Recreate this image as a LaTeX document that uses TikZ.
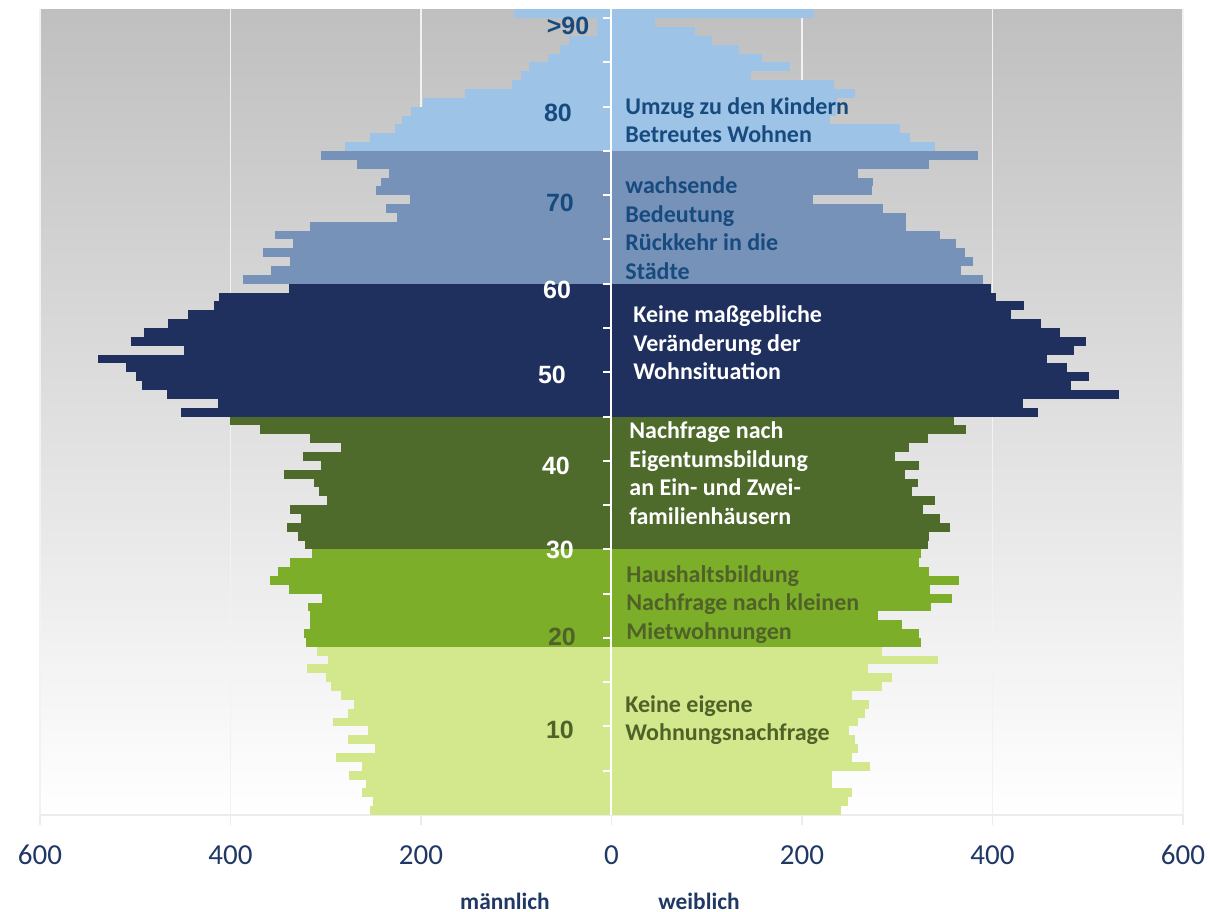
\documentclass[tikz,border=0pt]{standalone}
\usepackage{fontspec}
\setmainfont{Carlito}
\newfontfamily\zahlfont{Liberation Sans}
\definecolor{hellblau}{HTML}{9DC3E6}
\definecolor{stahlblau}{HTML}{7692B8}
\definecolor{marine}{HTML}{1F2F5E}
\definecolor{dunkelgruen}{HTML}{4E6B2C}
\definecolor{gruen}{HTML}{7DAE2A}
\definecolor{hellgruen}{HTML}{D3E78C}
\definecolor{textblau}{HTML}{174A7E}
\definecolor{textgruen}{HTML}{4F6228}
\definecolor{achsblau}{HTML}{203864}
\begin{document}
\begin{tikzpicture}[x=0.47625pt,y=4.427pt,
  altertext/.style={font=\zahlfont\bfseries\fontsize{12.5}{15}\selectfont,inner sep=0pt},
  hinweis/.style={anchor=west,align=left,inner sep=0pt,font=\bfseries\fontsize{12}{14.25}\selectfont},
  achstext/.style={font=\fontsize{14.5}{17}\selectfont,text=achsblau,inner sep=0pt}]
  %Rahmen
  	\fill[white] (-641.99,-10.955) rectangle (628.35,92.05);
  	\useasboundingbox (-641.99,-10.955) rectangle (628.35,92.05);
  %Hintergrund med verlauf
  	\shade[top color=black!25,bottom color=white] (-600,0) rectangle (600,91);
  %Gitterlinien
  	\foreach \g in {-600,-400,-200,200,400,600}
  		\draw[gray!10,line width=0.75pt] (\g,0) -- (\g,91);
  %x-achse
  	\draw[gray!15,line width=0.75pt] (-600,0) -- (600,0);
  	\foreach \g in {-600,-400,...,600}
  		\draw[gray!15,line width=0.75pt] (\g,0) -- (\g,-1.13);

  %Balken 0-18
	\foreach \a/\m/\w in {0/254/241,1/250/248,2/262/253,3/258/232,4/276/232,5/262/271,6/289/253,
		7/248/259,8/277/256,9/256/249,10/292/259,11/277/266,12/270/270,13/284/253,14/295/284,
		15/300/295,16/320/269,17/298/343,18/309/284}
		\fill[hellgruen] (-\m,\a) rectangle (\w,\a+1);
  %Balken 19-29
	\foreach \a/\m/\w in {19/321/325,20/323/323,21/317/305,22/317/280,23/319/335,24/304/357,
		25/339/334,26/358/365,27/350/333,28/337/323,29/314/325}
		\fill[gruen] (-\m,\a) rectangle (\w,\a+1);
  %Balken 30-44
	\foreach \a/\m/\w in {30/322/332,31/329/333,32/341/355,33/326/345,34/338/327,35/299/340,
		36/307/315,37/312/322,38/344/308,39/305/323,40/324/298,41/284/312,42/317/332,
		43/369/372,44/401/360}
		\fill[dunkelgruen] (-\m,\a) rectangle (\w,\a+1);
  %Balken 45-59
	\foreach \a/\m/\w in {45/452/448,46/413/432,47/467/533,48/493/482,49/499/501,50/510/478,
		51/539/457,52/449/486,53/504/498,54/491/471,55/466/451,56/445/419,57/417/433,
		58/412/404,59/339/398}
		\fill[marine] (-\m,\a) rectangle (\w,\a+1);
  %Balken 60-74
	\foreach \a/\m/\w in {60/387/390,61/357/367,62/338/380,63/366/371,64/334/362,65/353/345,
		66/317/309,67/225/309,68/237/285,69/212/212,70/247/273,71/242/275,72/234/259,
		73/267/333,74/305/385}
		\fill[stahlblau] (-\m,\a) rectangle (\w,\a+1);
  %Balken 75-90
	\foreach \a/\m/\w in {75/280/340,76/254/313,77/227/303,78/220/229,79/211/236,80/198/237,
		81/154/256,82/104/234,83/95/146,84/87/187,85/67/158,86/54/134,87/45/106,88/15/88,
		89/15/46,90/102/213}
		\fill[hellblau] (-\m,\a) rectangle (\w,\a+1);

  %y-achse med markeringer
	\draw[white,line width=1pt] (0,0) -- (0,91);
	\foreach \t in {5,10,...,90}
		\draw[white,line width=1pt] (-8.4,\t) -- (0,\t);

  %Altersangaben
	\node[altertext,text=textblau] (a90) at (-45.7,89.1) {>90};
	\node[altertext,text=textblau] (a80) at (-56.2,79.3) {80};
	\node[altertext,text=textblau] (a70) at (-54.1,69.1) {70};
	\node[altertext,text=white] (a60) at (-57.2,59.3) {60};
	\node[altertext,text=white] (a50) at (-62.5,49.7) {50};
	\node[altertext,text=white] (a40) at (-58.3,39.4) {40};
	\node[altertext,text=white] (a30) at (-54.1,29.9) {30};
	\node[altertext,text=textgruen] (a20) at (-52,20.1) {20};
	\node[altertext,text=textgruen] (a10) at (-54.1,9.6) {10};

  %Hinweise
	\node[hinweis,text=textblau] (umzug) at (14.2,78.5) {Umzug zu den Kindern\\Betreutes Wohnen};
	\node[hinweis,text=textblau] (rueckkehr) at (14.2,66.3) {wachsende\\Bedeutung\\R\"uckkehr in die\\St\"adte};
	\node[hinweis,text=white] (wohnsit) at (22.6,53.3) {Keine ma\ss gebliche\\Ver\"anderung der\\Wohnsituation};
	\node[hinweis,text=white] (eigentum) at (18.4,38.6) {Nachfrage nach\\Eigentumsbildung\\an Ein- und Zwei-\\familienh\"ausern};
	\node[hinweis,text=textgruen] (haushalt) at (15.2,23.8) {Haushaltsbildung\\Nachfrage nach kleinen\\Mietwohnungen};
	\node[hinweis,text=textgruen] (kinder) at (14.2,10.7) {Keine eigene\\Wohnungsnachfrage};

  %x-akse tal
	\foreach \g/\t in {-600/600,-400/400,-200/200,0/0,200/200,400/400,600/600}
		\node[achstext] (x\g) at (\g,-4.52) {\t};
	\node[font=\bfseries\fontsize{11.7}{14}\selectfont,text=achsblau,inner sep=0pt] (mann) at (-111.8,-9.71) {m\"annlich};
	\node[font=\bfseries\fontsize{11.7}{14}\selectfont,text=achsblau,inner sep=0pt] (frau) at (91.9,-9.71) {weiblich};
\end{tikzpicture}
\end{document}
